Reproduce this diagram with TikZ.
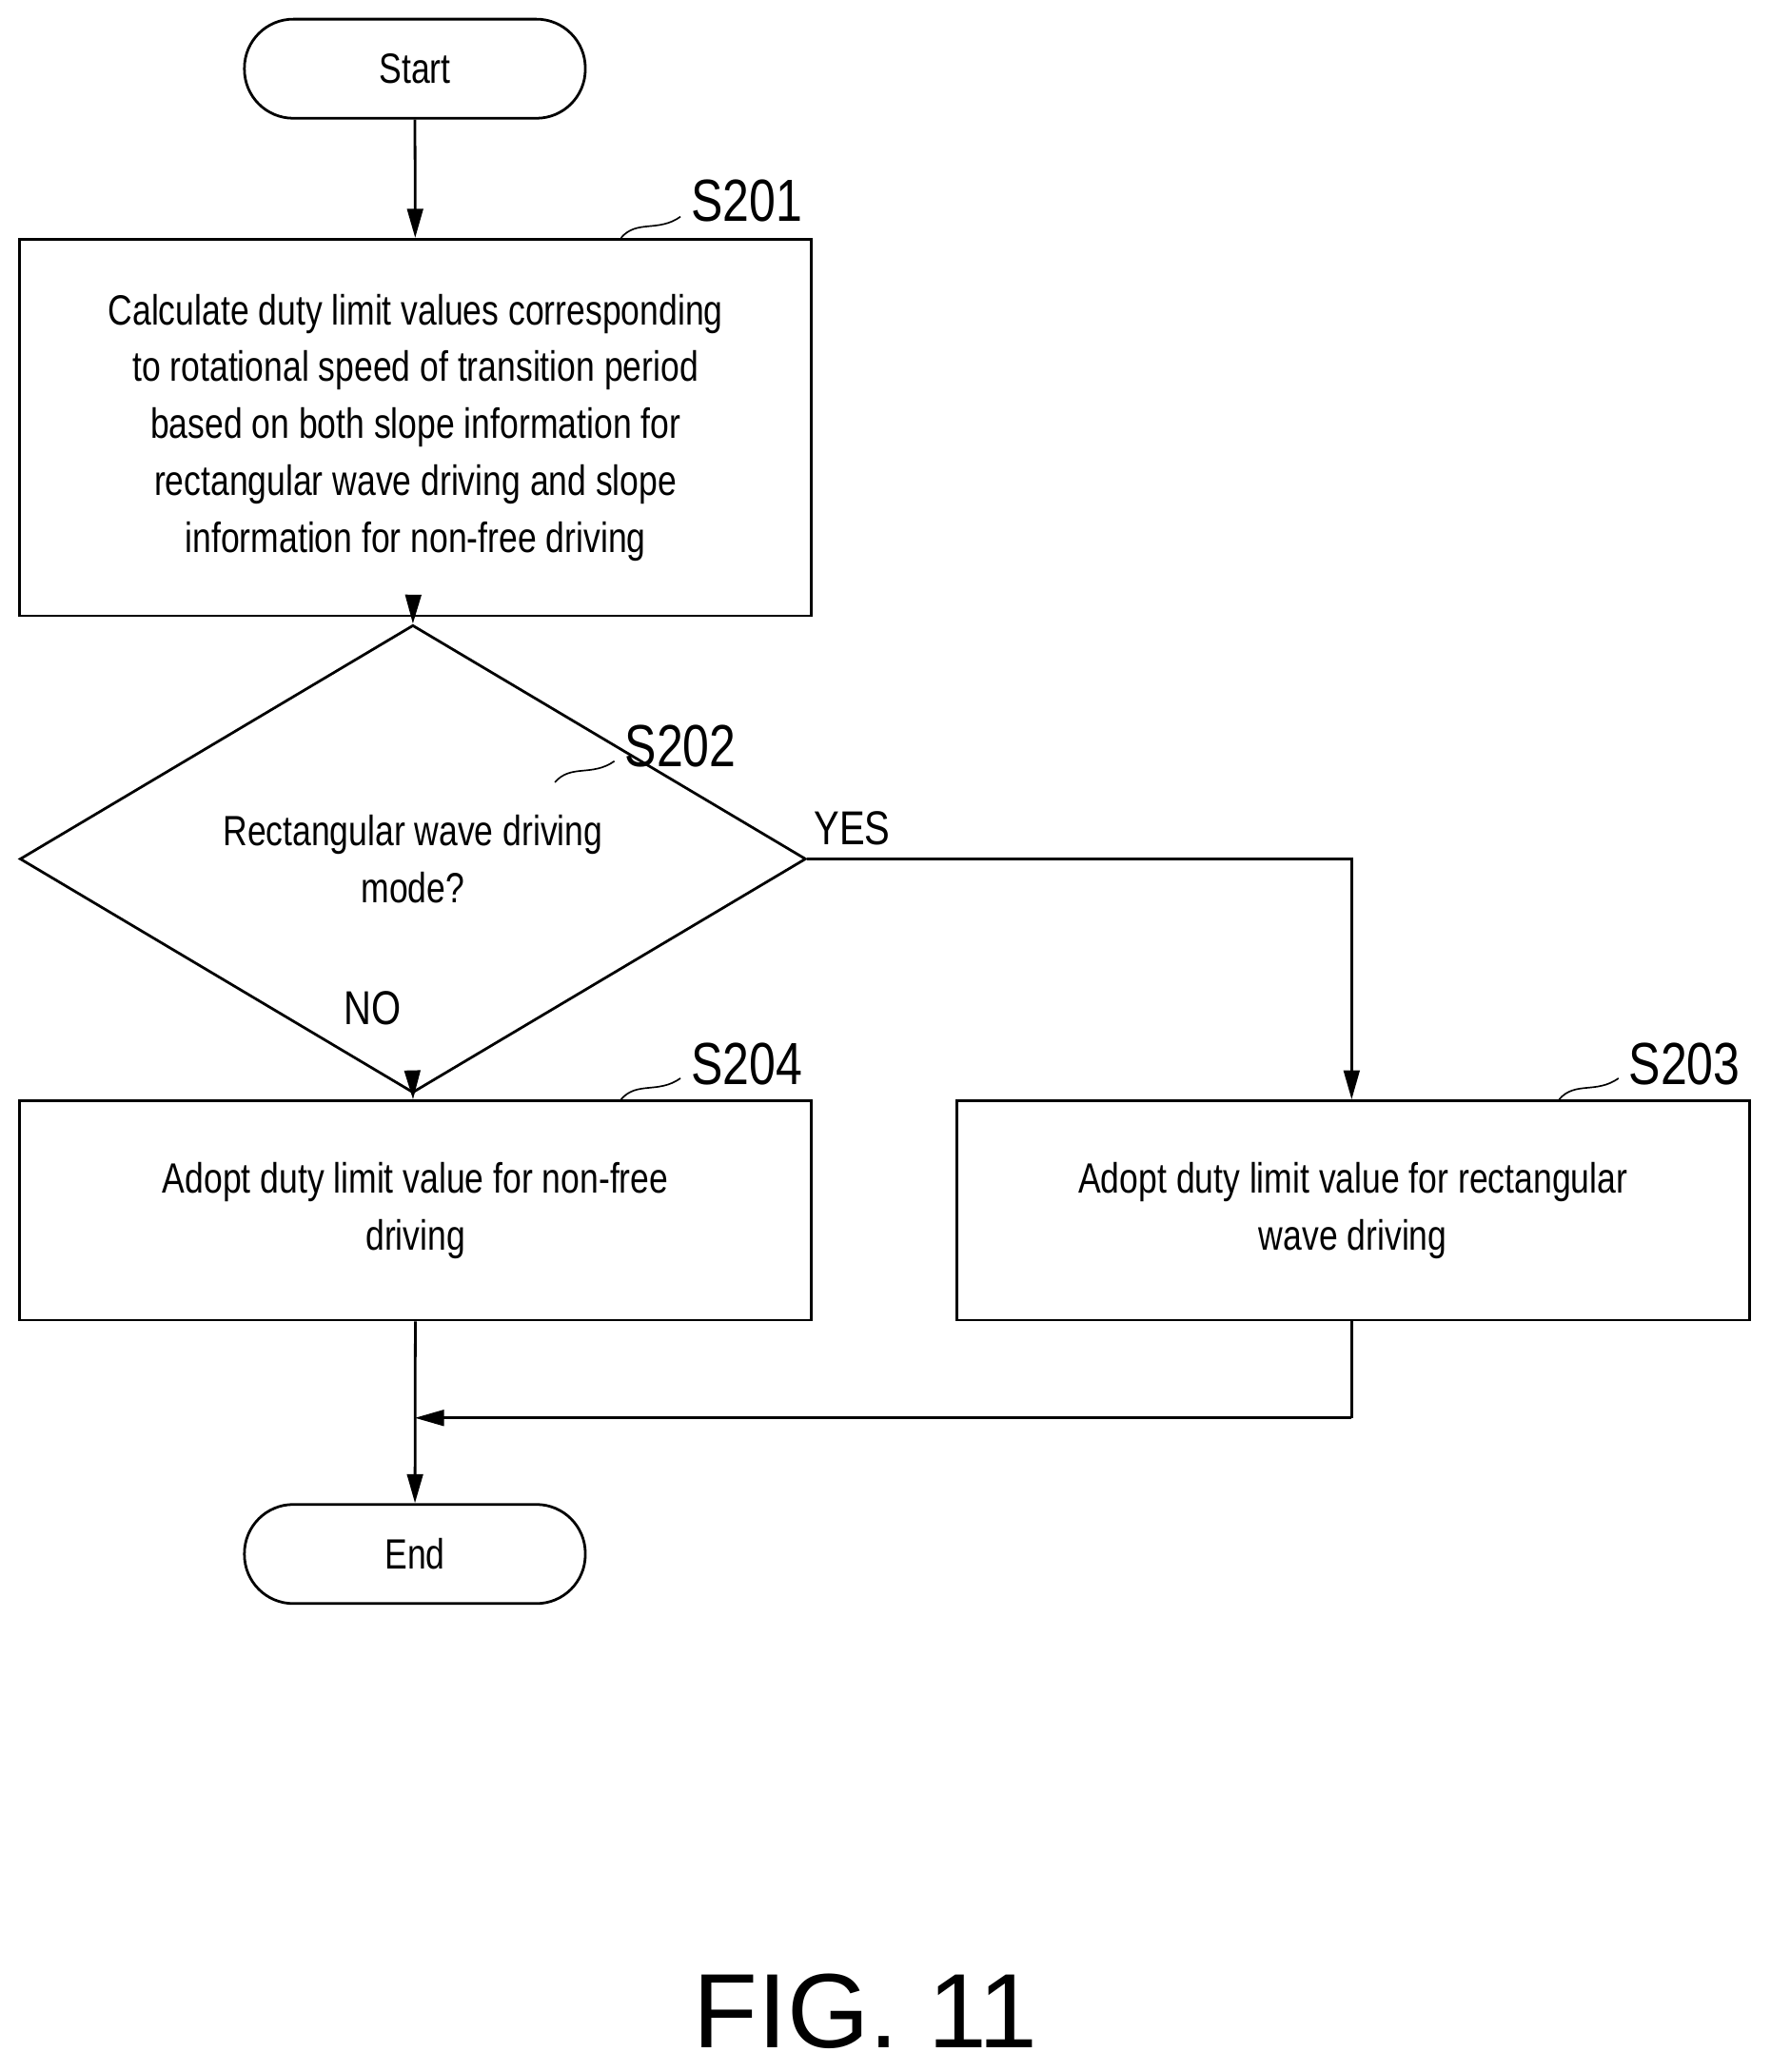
\documentclass[tikz,border=0pt]{standalone}
\usepackage{fontspec}
\setmainfont{Liberation Sans}[FakeStretch=0.8]
\newfontfamily\figfont{Liberation Sans}
\usetikzlibrary{shapes.geometric,arrows.meta}
\begin{document}
\begin{tikzpicture}[x=1pt,y=-1pt,
  box/.style={draw,line width=2pt,inner sep=0pt,align=center,font=\fontsize{32}{43}\selectfont},
  term/.style={box,rounded corners=37pt,minimum width=258pt,minimum height=75pt},
  lab/.style={font=\fontsize{45}{45}\selectfont},
  arr/.style={line width=2pt,-{Triangle[length=22pt,width=12pt]}},
  ln/.style={line width=2pt}]
\useasboundingbox (0,0) rectangle (1340,1568);
\node[term] (start) at (314,52) {Start};
\node[box,minimum width=599pt,minimum height=285pt] (s201) at (314.5,323.5) {Calculate duty limit values corresponding\\to rotational speed of transition period\\based on both slope information for\\rectangular wave driving and slope\\information for non-free driving};
\node[box,shape=diamond,minimum width=595pt,minimum height=184pt] (s202) at (312.5,650) {Rectangular wave driving\\mode?};
\node[box,minimum width=599pt,minimum height=166pt] (s204) at (314.5,916) {Adopt duty limit value for non-free\\driving};
\node[box,minimum width=600pt,minimum height=166pt] (s203) at (1024,916) {Adopt duty limit value for rectangular\\wave driving};
\node[term] (end) at (314,1176) {End};
\node[lab] (l201) at (565,152) {S201};
\node[lab] (l202) at (515,565) {S202};
\node[lab] (l204) at (565,805) {S204};
\node[lab] (l203) at (1275,805) {S203};
\node[font=\fontsize{36}{36}\selectfont] (yes) at (645,627) {YES};
\node[font=\fontsize{36}{36}\selectfont] (no) at (282,763) {NO};
\node[font=\figfont\fontsize{80}{80}\selectfont] (fig) at (655,1522) {FIG. 11};
\coordinate (c1) at (1023,650);
\coordinate (c2) at (1023,1073);
\coordinate (c3) at (314,1073);
\draw[arr] (start) -- (s201);
\draw[arr] (s201) -- (s202.north);
\draw[arr] (s202.south) -- (s204);
\draw[arr] (s202.east) -- (c1) -- (s203.north -| c1);
\draw[ln] (s203.south -| c2) -- (c2);
\draw[arr] (c2) -- (c3);
\draw[arr] (s204) -- (end);
\draw[line width=1.2pt] (470,180) .. controls (482,166) and (498,176) .. (515,164);
\draw[line width=1.2pt] (420,592) .. controls (432,578) and (448,588) .. (465,576);
\draw[line width=1.2pt] (470,832) .. controls (482,818) and (498,828) .. (515,816);
\draw[line width=1.2pt] (1180,832) .. controls (1192,818) and (1208,828) .. (1225,816);
\end{tikzpicture}
\end{document}
